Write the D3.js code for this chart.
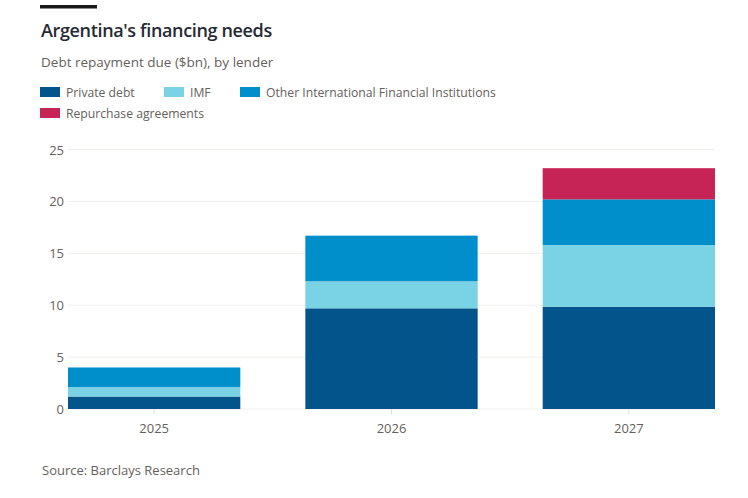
<!DOCTYPE html>
<html>
<head>
<meta charset="utf-8">
<style>
    body { margin: 0; background: #fff; font-family: "Open Sans", sans-serif; }
</style>
</head>
<body>
<div id="vis"></div>
<script src="https://d3js.org/d3.v7.min.js"></script>
<script>
    // data ($bn)
    const years = ["2025", "2026", "2027"];
    const seriesNames = ["Private debt", "IMF", "Other International Financial Institutions", "Repurchase agreements"];
    const privateDebt = [1.2, 9.7, 9.85];
    const imf = [0.9, 2.6, 5.95];
    const otherIfi = [1.9, 4.4, 4.4];
    const repos = [0, 0, 3.0];
    const yTicks = [0, 5, 10, 15, 20, 25];

    const colors = ["#03548a", "#7ad2e5", "#008fca", "#c62356"];
    const keys = ["priv", "imf", "other", "repo"];

    const rows = years.map((y, i) => ({
        year: y, priv: privateDebt[i], imf: imf[i], other: otherIfi[i], repo: repos[i]
    }));

    const W = 748, H = 498;
    const svg = d3.select("#vis").append("svg")
        .attr("width", W).attr("height", H);

    // top black bar
    svg.append("rect").attr("x", 40).attr("y", 5).attr("width", 57).attr("height", 3.5).attr("fill", "#1a1a1a");

    svg.append("text").attr("x", 41).attr("y", 37)
        .style("font-size", "18px").style("font-weight", 600)
        .style("letter-spacing", "-0.35px").attr("fill", "#262a33")
        .text("Argentina's financing needs");

    svg.append("text").attr("x", 41).attr("y", 67)
        .style("font-size", "13.5px").attr("fill", "#66605c")
        .text("Debt repayment due ($bn), by lender");

    // legend
    const legendPos = [[40, 87], [164, 87], [240, 87], [40, 108]];
    const legend = svg.append("g");
    seriesNames.forEach((name, i) => {
        const [lx, ly] = legendPos[i];
        legend.append("rect").attr("x", lx).attr("y", ly).attr("width", 20).attr("height", 10).attr("fill", colors[i]);
        legend.append("text").attr("x", lx + 26).attr("y", ly + 9.5)
            .style("font-size", "12.2px").attr("fill", "#66605c").text(name);
    });

    // scales
    const x = d3.scaleBand().domain(years).range([68, 715]).paddingInner(0.274).paddingOuter(0);
    const y = d3.scaleLinear().domain([0, 25]).range([409, 149.5]);

    // gridlines
    svg.append("g").selectAll("line").data(yTicks).join("line")
        .attr("x1", 68).attr("x2", 715)
        .attr("y1", d => y(d)).attr("y2", d => y(d))
        .attr("stroke", "#efeee9").attr("stroke-width", 1);

    // y labels
    svg.append("g").selectAll("text").data(yTicks).join("text")
        .attr("x", 64).attr("y", d => y(d) + 5)
        .attr("text-anchor", "end")
        .style("font-size", "13px").attr("fill", "#66605c")
        .text(d => d);

    // stacked bars
    const stacked = d3.stack().keys(keys)(rows);
    svg.append("g").selectAll("g").data(stacked).join("g")
        .attr("fill", (d, i) => colors[i])
        .selectAll("rect").data(d => d).join("rect")
        .attr("x", d => x(d.data.year))
        .attr("width", x.bandwidth())
        .attr("y", d => y(d[1]))
        .attr("height", d => y(d[0]) - y(d[1]));

    // x axis
    const xAxis = d3.axisBottom(x).tickSize(5).tickPadding(10);
    const gx = svg.append("g").attr("transform", "translate(0,409)").call(xAxis);
    gx.select(".domain").remove();
    gx.selectAll(".tick line").attr("stroke", "#e0ded8");
    gx.selectAll(".tick text").style("font-size", "13px").style("font-family", "Open Sans, sans-serif").attr("fill", "#66605c");

    svg.append("text").attr("x", 42).attr("y", 475)
        .style("font-size", "13px").attr("fill", "#66605c")
        .text("Source: Barclays Research");
</script>
</body>
</html>
